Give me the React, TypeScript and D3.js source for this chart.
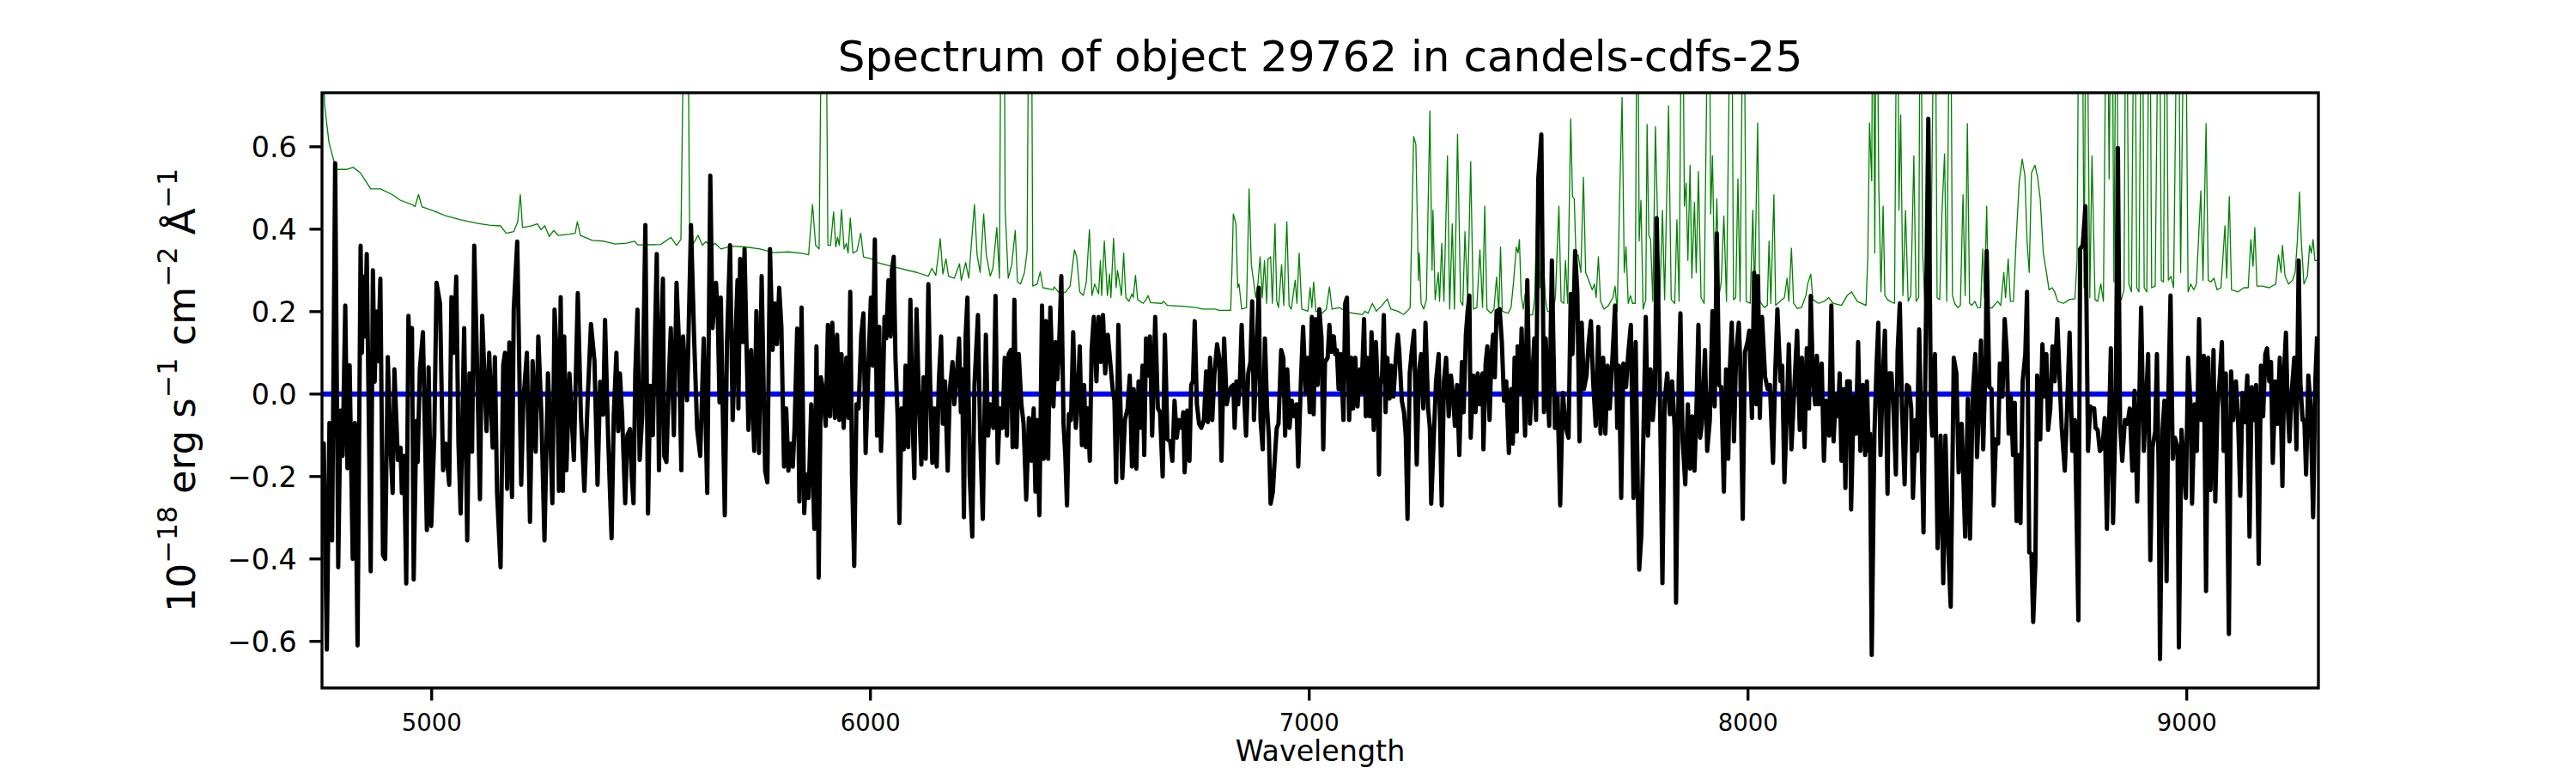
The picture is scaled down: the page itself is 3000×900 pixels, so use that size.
import React from 'react';
import * as d3 from 'd3';

// ---------- chart content ----------
const title = 'Spectrum of object 29762 in candels-cdfs-25';
const xLabel = 'Wavelength';
const xDomain: [number, number] = [4750, 9300];
const yDomain: [number, number] = [-0.713, 0.731];
const xTicks = [5000, 6000, 7000, 8000, 9000];
const yTicks = [-0.6, -0.4, -0.2, 0.0, 0.2, 0.4, 0.6];
const zeroLevel = 0;

// observed flux [wavelength, flux]
const fluxSamples: [number, number][] = [
[4750,-0.13],[4754,-0.12],[4761,-0.62],[4767,-0.07],[4773,-0.355],[4780,0.56],[4787,-0.42],[4792,-0.04],[4797,-0.15],[4803,0.215],[4808,-0.18],[4813,0.07],[4820,-0.40],[4825,-0.07],[4831,-0.61],[4838,0.36],[4841,0.10],[4844,0.285],[4848,0.14],[4852,0.34],[4861,-0.43],[4866,0.30],[4870,0.03],[4874,0.20],[4878,0.08],[4883,0.28],[4889,-0.39],[4894,-0.40],[4900,0.09],[4905,-0.10],[4911,-0.24],[4915,0.06],[4923,-0.16],[4929,-0.13],[4932,-0.24],[4937,-0.15],[4942,-0.46],[4947,0.19],[4951,0.05],[4955,0.16],[4959,-0.45],[4965,-0.065],[4968,-0.165],[4973,0.06],[4980,0.15],[4989,-0.33],[4993,0.065],[4999,-0.32],[5006,-0.10],[5011,0.27],[5019,0.22],[5026,-0.185],[5032,-0.12],[5040,-0.22],[5045,0.235],[5050,0.10],[5056,0.285],[5061,-0.12],[5066,-0.29],[5074,0.16],[5081,-0.355],[5086,0.05],[5092,-0.14],[5097,0.36],[5103,0.09],[5110,-0.255],[5115,0.19],[5125,-0.09],[5131,0.10],[5139,-0.13],[5144,0.09],[5149,-0.24],[5157,-0.42],[5163,0.07],[5167,0.10],[5172,-0.23],[5177,0.125],[5183,-0.25],[5187,0.205],[5195,0.37],[5204,-0.22],[5209,-0.015],[5217,0.10],[5224,-0.31],[5230,0.08],[5237,-0.14],[5243,0.14],[5250,-0.05],[5257,-0.355],[5265,0.05],[5269,-0.05],[5275,-0.265],[5280,0.205],[5285,0.09],[5290,-0.235],[5294,0.235],[5299,-0.235],[5302,0.14],[5307,-0.185],[5314,0.05],[5324,-0.16],[5333,0.245],[5340,-0.05],[5348,-0.235],[5356,0.0],[5363,0.17],[5371,0.08],[5378,-0.22],[5384,0.03],[5391,-0.05],[5395,0.18],[5402,-0.10],[5410,-0.35],[5415,-0.05],[5421,0.10],[5425,-0.09],[5429,0.05],[5434,-0.05],[5441,-0.265],[5446,-0.10],[5452,-0.085],[5456,-0.20],[5460,-0.265],[5464,0.05],[5469,0.205],[5474,-0.16],[5480,-0.05],[5487,0.41],[5493,-0.29],[5498,0.02],[5504,-0.10],[5513,0.34],[5518,-0.185],[5522,0.10],[5527,0.28],[5530,-0.15],[5535,-0.165],[5541,0.05],[5545,0.16],[5552,-0.10],[5558,0.27],[5563,0.14],[5569,-0.185],[5573,0.14],[5577,0.06],[5582,-0.015],[5591,0.41],[5598,0.14],[5605,-0.085],[5612,-0.15],[5620,0.135],[5628,-0.24],[5635,0.53],[5640,0.16],[5648,0.27],[5652,0.19],[5656,-0.02],
[5659,0.234],[5663,-0.021],[5668,-0.294],[5673,0.126],[5680,0.361],[5686,-0.063],[5692,0.126],[5697,0.276],[5699,-0.035],[5703,0.328],[5709,0.126],[5713,0.352],[5717,0.144],[5722,-0.087],[5728,0.107],[5735,-0.138],[5740,0.201],[5746,-0.143],[5752,0.286],[5760,-0.186],[5765,-0.214],[5771,0.352],[5777,0.107],[5782,0.22],[5787,0.121],[5792,0.258],[5797,0.163],[5803,-0.176],[5808,-0.035],[5813,-0.186],[5818,-0.12],[5823,-0.176],[5827,-0.082],[5833,0.159],[5838,-0.261],[5843,0.21],[5849,-0.289],[5853,-0.195],[5859,-0.252],[5865,-0.025],[5872,-0.327],[5877,0.116],[5882,-0.445],[5887,0.041],[5891,0.017],[5898,-0.077],[5903,0.168],[5908,-0.054],[5913,0.173],[5919,-0.058],[5924,0.144],[5929,-0.063],[5934,0.097],[5939,-0.082],[5945,0.088],[5950,-0.058],[5954,0.248],[5958,-0.195],[5963,-0.417],[5968,-0.025],[5973,-0.035],[5979,0.144],[5984,0.196],[5989,-0.143],[5996,0.088],[6001,0.234],[6005,0.069],[6010,0.375],[6015,-0.101],[6020,0.163],[6024,-0.138],[6028,-0.021],[6032,0.187],[6036,0.135],[6041,0.276],[6046,0.14],[6049,0.30],[6053,0.333],[6057,0.088],[6062,-0.058],[6066,-0.313],[6071,-0.035],[6076,-0.134],[6080,0.069],[6086,-0.129],[6091,0.229],[6096,-0.063],[6100,-0.204],[6105,0.206],[6110,0.003],[6116,-0.171],[6121,0.041],[6126,-0.157],[6132,0.267],[6136,0.031],[6141,-0.167],[6146,-0.035],[6151,-0.176],[6156,0.036],[6161,0.14],[6165,-0.072],[6170,0.031],[6176,-0.186],[6181,0.012],[6187,0.078],[6191,-0.025],[6196,0.031],[6202,0.135],[6206,-0.044],[6209,0.06],[6213,-0.299],[6217,0.144],[6221,0.234],[6226,-0.195],[6232,-0.346],[6237,0.022],[6245,0.192],[6250,-0.101],[6256,-0.303],[6263,0.144],[6268,-0.101],[6273,-0.025],[6280,-0.082],[6285,0.238],[6290,-0.167],[6295,-0.035],[6301,-0.082],[6306,0.088],[6311,-0.101],[6315,0.097],[6320,0.107],[6324,-0.129],[6328,0.229],[6333,-0.129],[6338,0.097],[6344,-0.025],[6349,-0.072],[6355,-0.256],[6361,-0.058],[6367,-0.162],[6372,-0.035],[6376,-0.237],[6380,-0.063],[6385,-0.294],[6391,0.215],[6395,-0.157],[6400,0.177],[6405,-0.157],[6410,0.21],[6417,-0.03],[6422,0.126],[6426,0.036],[6430,0.116],[6435,0.286],[6440,-0.072],[6444,-0.148],[6448,-0.27],[6452,-0.049],[6457,-0.063],[6462,0.15],[6468,-0.082],[6472,-0.021],[6477,0.116],[6482,-0.124],[6487,0.022],[6491,-0.129],[6495,-0.035],[6500,-0.162],[6504,0.107],[6509,0.187],[6515,0.031],[6520,0.187],[6525,0.078],[6530,0.192],[6535,0.05],[6541,0.144],[6546,0.083],[6552,0.012],[6556,-0.016],[6560,-0.214],[6565,0.168],
[6574,-0.204],[6580,-0.063],[6586,-0.035],[6591,0.045],[6596,-0.176],[6600,0.012],[6606,-0.181],[6611,0.031],[6615,-0.082],[6620,0.069],[6624,-0.148],[6628,0.135],[6632,0.045],[6637,0.14],[6642,-0.101],[6649,0.187],[6655,-0.035],[6660,-0.044],[6666,-0.20],[6671,0.144],[6677,-0.11],[6683,-0.115],[6688,-0.162],[6693,-0.016],[6698,-0.106],[6703,-0.063],[6709,-0.082],[6713,-0.044],[6716,-0.19],[6722,-0.04],[6727,-0.162],[6731,0.022],[6735,0.031],[6739,0.177],[6744,-0.025],[6749,-0.072],[6754,-0.082],[6760,-0.063],[6765,0.055],[6769,-0.068],[6774,0.088],[6779,-0.063],[6784,0.05],[6790,0.121],[6795,0.088],[6800,-0.162],[6806,0.135],[6812,-0.025],[6817,0.003],[6822,0.017],[6827,0.022],[6830,-0.082],[6834,0.031],[6838,-0.025],[6842,0.031],[6846,0.168],[6851,0.012],[6856,-0.101],[6861,0.05],[6866,0.078],[6870,0.225],[6874,-0.063],[6879,0.069],[6885,0.258],[6889,-0.063],[6894,-0.134],[6899,0.135],[6904,-0.035],[6908,-0.101],[6912,-0.266],[6917,-0.238],[6923,-0.129],[6926,-0.082],[6930,-0.072],[6936,0.107],[6941,0.088],[6945,-0.101],[6950,0.06],[6955,-0.082],[6960,-0.016],[6966,-0.054],[6971,-0.025],[6975,-0.176],[6981,0.031],[6986,0.163],[6992,0.003],[6997,0.088],[7001,-0.044],[7006,0.187],[7010,-0.049],[7015,0.182],[7019,0.022],[7023,0.206],[7028,0.135],[7032,-0.134],[7036,0.078],[7042,0.088],[7046,0.168],[7050,0.102],[7056,0.14],[7059,0.097],[7063,0.107],[7067,0.012],[7072,0.097],[7078,-0.063],[7082,0.22],[7086,0.234],[7091,-0.063],[7096,0.088],[7100,-0.035],[7105,0.088],[7110,-0.03],[7116,0.06],[7119,0.003],[7125,0.182],[7129,-0.054],[7132,0.088],[7138,-0.054],[7142,0.15],[7147,-0.087],[7152,0.126],[7156,0.012],[7159,-0.195],[7162,0.022],[7166,0.045],[7170,0.192],[7174,-0.044],[7178,0.088],[7183,-0.011],[7187,0.069],[7192,-0.006],[7198,0.097],[7202,0.144],[7205,0.107],[7211,-0.016],[7216,-0.044],[7220,-0.101],[7224,-0.303],[7229,0.05],[7234,0.107],[7239,0.154],[7245,-0.171],[7250,0.05],[7255,0.097],[7260,-0.035],[7265,0.173],[7271,-0.035],[7275,-0.082],[7278,-0.266],[7284,-0.101],[7289,0.031],[7295,0.097],[7302,-0.27],[7307,0.031],[7312,0.088],[7318,-0.054],[7323,0.045],[7328,-0.006],[7332,-0.077],[7337,0.022],[7342,-0.148],[7348,0.078],[7352,-0.044],[7357,0.144],[7361,0.201],[7365,0.239],[7368,-0.106],[7374,0.045],[7379,-0.044],[7384,0.05],[7389,-0.025],[7395,0.05],[7397,-0.134],[7402,0.074],[7406,0.116],[7411,-0.063],[7415,0.088],[7419,0.144],[7423,0.041],[7427,0.201],[7434,0.206],[7439,0.126],[7444,-0.016],[7449,0.031],[7455,-0.143],[7460,0.012],[7464,-0.12],[7468,0.088],[7473,-0.091],[7475,0.116],
[7480,0.003],[7484,0.159],[7492,-0.101],[7497,0.276],[7503,-0.072],[7508,0.031],[7513,0.135],[7517,-0.063],[7522,0.522],[7529,0.63],[7535,-0.044],[7539,0.135],[7543,0.012],[7547,-0.077],[7553,0.324],[7560,-0.082],[7566,-0.006],[7572,-0.27],[7578,0.003],[7585,-0.082],[7591,-0.106],[7596,0.243],[7600,0.097],[7606,0.347],[7611,0.248],[7616,-0.115],[7621,0.173],[7626,0.012],[7632,0.045],[7637,0.126],[7642,0.177],[7647,0.031],[7653,-0.077],[7659,0.163],[7664,-0.096],[7670,0.088],[7675,-0.096],[7680,0.069],[7685,-0.035],[7692,0.107],[7697,0.215],[7702,-0.082],[7706,0.069],[7711,-0.252],[7716,0.074],[7722,0.017],[7727,0.097],[7733,0.168],[7739,-0.252],[7744,0.126],[7749,-0.242],[7752,-0.426],[7757,-0.341],[7762,-0.082],[7767,0.187],[7772,-0.101],[7778,0.06],[7783,-0.063],[7788,0.012],[7792,0.427],[7799,0.022],[7805,-0.459],[7810,-0.016],[7816,0.05],[7822,-0.049],[7827,0.031],[7833,-0.082],[7836,-0.506],[7842,0.031],[7846,0.196],[7851,-0.11],[7857,-0.219],[7863,-0.025],[7868,-0.181],[7873,-0.054],[7878,-0.186],[7882,-0.058],[7887,0.168],[7891,-0.106],[7895,-0.072],[7902,0.107],[7907,-0.138],[7913,-0.063],[7919,0.201],[7924,-0.03],[7929,0.39],[7934,0.022],[7939,0.017],[7945,-0.237],[7950,0.06],[7955,-0.157],[7959,0.069],[7963,0.173],[7968,-0.115],[7973,0.097],[7979,0.173],[7982,0.088],[7988,-0.303],[7993,0.102],[7999,0.126],[8003,0.154],[8009,-0.058],[8014,0.295],[8019,-0.025],[8023,0.286],[8027,-0.058],[8032,0.187],[8039,0.041],[8045,0.012],[8050,0.022],[8057,-0.167],[8062,0.05],[8067,0.206],[8074,0.031],[8078,0.069],[8083,-0.214],[8089,-0.025],[8093,0.121],[8099,-0.134],[8105,0.003],[8112,0.154],[8118,-0.087],[8123,0.088],[8129,-0.129],[8134,0.111],[8139,-0.035],[8143,0.238],[8148,0.041],[8153,-0.025],[8157,0.093],[8161,-0.025],[8168,0.074],[8173,-0.162],[8178,-0.016],[8185,-0.101],[8190,0.215],[8195,-0.115],[8200,-0.002],[8205,-0.054],[8209,0.05],[8213,-0.162],[8218,0.012],[8222,-0.228],[8226,0.031],[8232,0.031],[8235,-0.28],[8241,-0.006],[8246,-0.096],[8251,0.126],[8256,-0.138],[8262,0.022],[8267,-0.148],[8271,0.031],[8275,-0.138],[8278,-0.096],[8282,-0.633],[8288,-0.101],[8293,0.069],[8297,0.173],[8302,-0.148],[8307,0.031],[8312,0.154],[8318,-0.242],[8321,0.05],[8327,0.05],[8332,-0.049],[8337,-0.195],[8341,0.102],[8346,0.22],[8351,-0.035],[8357,-0.219],[8362,0.022],[8367,0.017],[8372,-0.035],[8376,-0.252],[8382,-0.063],[8385,-0.138],[8390,0.157],
[8400,-0.336],[8406,0.22],[8411,0.668],[8417,-0.044],[8420,-0.101],[8426,0.097],[8432,-0.374],[8439,-0.101],[8445,-0.459],[8450,-0.101],[8456,-0.365],[8462,-0.516],[8469,0.088],[8475,0.05],[8480,-0.19],[8487,-0.072],[8495,-0.346],[8501,-0.011],[8506,-0.351],[8512,-0.006],[8518,0.097],[8522,-0.153],[8527,-0.006],[8531,0.13],[8536,-0.134],[8542,0.097],[8544,0.347],[8550,0.017],[8555,0.012],[8560,-0.27],[8565,-0.11],[8570,-0.12],[8574,0.074],[8580,-0.006],[8585,0.182],[8590,0.097],[8594,-0.096],[8599,-0.006],[8604,-0.148],[8608,-0.021],[8612,-0.308],[8617,-0.148],[8621,-0.313],[8626,0.031],[8632,0.097],[8636,0.248],[8641,-0.384],[8646,-0.388],[8650,-0.553],[8655,-0.412],[8659,0.045],[8666,-0.11],[8671,0.121],[8676,-0.006],[8680,0.097],[8684,-0.087],[8689,-0.035],[8694,0.116],[8699,0.031],[8705,0.182],[8710,0.041],[8715,-0.082],[8722,-0.186],[8727,-0.044],[8733,0.149],[8739,-0.138],[8745,-0.063],[8753,-0.549],[8757,0.352],[8763,0.361],[8769,0.456],[8775,-0.138],[8780,-0.03],[8784,-0.035],[8789,-0.035],[8792,-0.082],[8797,-0.087],[8802,-0.138],[8808,-0.129],[8813,-0.058],[8818,-0.327],[8823,-0.072],[8827,0.111],[8832,-0.313],[8838,-0.035],[8843,0.597],[8848,-0.072],[8853,-0.162],[8859,-0.063],[8865,-0.072],[8870,-0.035],[8876,-0.186],[8881,0.008],[8887,-0.261],[8892,-0.006],[8896,0.21],[8902,-0.138],[8907,-0.025],[8912,0.097],[8917,-0.403],[8922,-0.129],[8928,-0.091],[8932,0.097],[8936,-0.195],[8939,-0.643],[8945,-0.087],[8949,-0.016],[8954,-0.454],[8958,-0.006],[8963,0.239],[8968,-0.157],[8973,-0.106],[8979,-0.129],[8982,-0.615],[8988,-0.087],[8993,-0.162],[8998,-0.252],[9003,0.088],[9009,-0.035],[9012,-0.266],[9018,-0.025],[9023,-0.138],[9028,0.182],[9033,-0.063],[9039,0.093],[9044,-0.478],[9049,0.088],[9054,-0.233],[9061,0.107],[9065,-0.261],[9070,-0.035],[9075,0.036],[9080,0.126],[9084,-0.138],[9089,0.05],[9096,-0.582],[9101,0.055],[9106,-0.063],[9112,0.031],[9117,-0.063],[9122,-0.247],[9127,0.003],[9132,-0.068],[9138,0.045],[9143,-0.346],[9148,0.017],[9153,-0.063],[9158,0.022],[9164,-0.412],[9169,0.069],[9174,-0.054],[9179,0.097],[9183,0.111],[9188,0.031],[9192,0.078],[9196,-0.167],[9202,0.031],[9207,-0.072],[9212,0.088],[9218,-0.223],[9222,0.06],[9226,0.149],[9230,-0.03],[9234,-0.115],[9239,0.003],[9245,0.088],[9250,-0.134],[9255,0.324],[9259,0.027],[9264,-0.063],[9268,-0.063],[9272,-0.195],[9277,0.045],[9282,-0.025],[9288,-0.299],[9293,0.031],[9297,0.14]
];

// noise spectrum [wavelength, value]
const noiseSamples: [number, number][] = [
[4750,1.0],[4753,0.80],[4756,0.70],[4766,0.61],[4776,0.57],[4782,0.545],[4805,0.545],[4821,0.55],[4838,0.536],[4861,0.498],[4883,0.498],[4910,0.484],[4929,0.47],[4955,0.46],[4962,0.455],[4970,0.484],[4978,0.454],[5001,0.446],[5033,0.432],[5066,0.423],[5105,0.414],[5131,0.41],[5157,0.408],[5170,0.39],[5187,0.394],[5196,0.418],[5202,0.484],[5207,0.404],[5226,0.408],[5241,0.413],[5249,0.399],[5258,0.408],[5268,0.382],[5278,0.397],[5288,0.385],[5314,0.388],[5327,0.39],[5332,0.418],[5339,0.385],[5366,0.373],[5392,0.371],[5418,0.364],[5444,0.366],[5462,0.371],[5470,0.362],[5483,0.362],[5522,0.363],[5545,0.38],[5558,0.361],[5568,0.375],[5573,0.8],[5577,1.5],[5582,1.5],[5585,0.8],[5588,0.37],[5594,0.361],[5607,0.385],[5617,0.361],[5625,0.37],[5636,0.357],[5646,0.366],[5659,0.352],
[5683,0.359],[5715,0.357],[5748,0.352],[5780,0.343],[5813,0.345],[5846,0.341],[5859,0.338],[5868,0.46],[5875,0.361],[5883,0.352],[5888,0.9],[5891,1.5],[5896,1.5],[5900,0.8],[5903,0.361],[5909,0.361],[5916,0.442],[5921,0.357],[5925,0.38],[5929,0.361],[5934,0.448],[5940,0.352],[5945,0.366],[5949,0.342],[5954,0.427],[5960,0.342],[5969,0.347],[5978,0.39],[5984,0.333],[6002,0.328],[6015,0.319],[6041,0.312],[6067,0.305],[6106,0.295],[6132,0.286],[6140,0.305],[6149,0.288],[6159,0.377],[6165,0.291],[6172,0.328],[6178,0.286],[6191,0.281],[6203,0.316],[6207,0.276],[6217,0.319],[6224,0.281],[6237,0.46],[6243,0.338],[6250,0.295],[6258,0.437],[6264,0.338],[6273,0.286],[6279,0.305],[6288,0.404],[6294,0.281],[6297,0.9],[6300,1.5],[6304,1.2],[6307,0.446],[6314,0.281],[6322,0.314],[6330,0.397],[6335,0.272],[6342,0.267],[6351,0.295],[6357,0.347],[6362,1.2],[6365,1.5],[6367,1.0],[6370,0.262],[6380,0.267],[6387,0.297],[6393,0.258],[6416,0.253],[6419,0.26],[6432,0.243],[6445,0.248],[6455,0.262],[6465,0.35],[6470,0.333],[6477,0.248],[6485,0.239],[6492,0.272],[6499,0.399],[6505,0.239],[6511,0.267],[6520,0.243],[6524,0.324],[6527,0.239],[6533,0.371],[6540,0.239],[6545,0.291],[6548,0.234],[6554,0.378],[6560,0.258],[6563,0.30],[6569,0.262],
[6572,0.239],[6577,0.342],[6582,0.234],[6589,0.225],[6596,0.243],[6599,0.234],[6604,0.288],[6609,0.229],[6622,0.22],[6628,0.229],[6633,0.239],[6638,0.222],[6664,0.22],[6668,0.225],[6677,0.215],[6716,0.213],[6743,0.21],[6756,0.206],[6785,0.206],[6795,0.203],[6821,0.203],[6824,0.305],[6827,0.437],[6833,0.413],[6837,0.258],[6840,0.267],[6846,0.206],[6857,0.21],[6863,0.498],[6868,0.314],[6873,0.276],[6878,0.234],[6883,0.267],[6888,0.333],[6893,0.234],[6898,0.324],[6903,0.22],[6906,0.328],[6912,0.333],[6916,0.22],[6922,0.413],[6926,0.225],[6930,0.21],[6937,0.314],[6942,0.215],[6949,0.418],[6954,0.215],[6959,0.206],[6968,0.276],[6972,0.22],[6977,0.342],[6983,0.206],[6997,0.201],[7002,0.258],[7006,0.21],[7010,0.272],[7015,0.201],[7029,0.196],[7039,0.206],[7046,0.26],[7052,0.206],[7069,0.21],[7082,0.201],[7101,0.196],[7121,0.193],[7127,0.201],[7134,0.196],[7144,0.22],[7153,0.201],[7166,0.215],[7178,0.231],[7186,0.206],[7202,0.201],[7215,0.193],[7225,0.203],[7230,0.21],[7238,0.625],[7243,0.606],[7249,0.276],[7251,0.342],[7255,0.22],[7261,0.206],[7267,0.229],[7275,0.687],[7280,0.30],[7282,0.446],[7287,0.229],[7294,0.295],[7297,0.225],[7302,0.366],[7307,0.225],[7315,0.578],[7320,0.206],[7326,0.413],[7331,0.206],[7338,0.63],[7345,0.225],[7350,0.215],[7355,0.394],[7361,0.229],[7368,0.564],[7374,0.206],[7382,0.21],[7389,0.35],[7395,0.21],[7400,0.456],[7405,0.206],[7414,0.196],[7421,0.206],[7427,0.284],[7432,0.196],[7436,0.357],[7440,0.201],[7453,0.196],[7460,0.21],[7466,0.276],[7472,0.357],[7476,0.342],[7479,0.375],
[7483,0.239],[7488,0.206],[7492,0.243],[7496,0.192],[7509,0.192],[7514,0.234],[7519,0.465],[7522,0.522],[7526,0.258],[7532,0.371],[7538,0.234],[7543,0.201],[7555,0.196],[7561,0.234],[7569,0.456],[7574,0.225],[7580,0.22],[7584,0.324],[7589,0.22],[7596,0.668],[7600,0.479],[7604,0.474],[7608,0.333],[7613,0.338],[7619,0.295],[7625,0.526],[7630,0.295],[7637,0.276],[7645,0.253],[7650,0.267],[7654,0.234],[7659,0.333],[7664,0.225],[7672,0.206],[7682,0.215],[7692,0.234],[7697,0.262],[7702,0.201],[7707,0.456],[7713,0.72],[7718,0.295],[7722,0.357],[7727,0.22],[7732,0.239],[7737,0.22],[7743,0.22],[7748,1.2],[7752,0.371],[7756,0.47],[7761,0.206],[7767,0.229],[7770,0.654],[7774,0.385],[7778,0.375],[7783,0.225],[7789,0.649],[7795,0.371],[7799,0.229],[7805,0.446],[7810,0.229],[7819,0.70],[7825,0.229],[7833,0.22],[7838,0.423],[7843,0.225],[7850,1.2],[7855,0.456],[7859,0.512],[7863,0.324],[7868,0.555],[7872,0.281],[7878,0.465],[7882,0.295],[7887,0.54],[7893,0.234],[7900,0.22],[7911,1.2],[7915,0.437],[7919,0.578],[7924,0.272],[7929,0.474],[7934,0.239],[7939,0.272],[7945,0.432],[7951,0.225],[7962,1.2],[7967,0.229],[7972,0.234],[7977,0.522],[7982,0.225],[7990,1.2],[7996,0.225],[8005,0.22],[8011,0.446],[8015,0.234],[8022,0.658],[8027,0.225],[8037,0.21],[8044,0.215],[8048,0.371],[8052,0.22],[8059,0.484],[8063,0.215],[8073,0.225],[8083,0.234],[8089,0.281],[8093,0.225],[8099,0.354],[8104,0.22],[8112,0.208],[8122,0.21],[8132,0.239],[8136,0.267],[8143,0.291],[8148,0.229],[8161,0.22],[8174,0.225],[8184,0.234],[8194,0.22],[8213,0.215],[8226,0.239],[8236,0.248],[8249,0.225],[8269,0.215],[8273,0.333],[8277,0.658],[8282,0.517],[8285,1.2],[8289,0.342],[8293,1.2],[8298,0.512],[8303,0.248],[8308,0.456],[8312,0.239],[8318,0.229],[8324,0.225],[8334,0.22],[8340,1.2],[8344,0.446],[8348,0.677],[8353,0.239],[8359,0.446],[8365,0.225],[8371,0.239],[8378,0.578],[8383,0.225],[8389,0.234],
[8393,1.2],[8398,0.342],[8403,0.22],[8411,0.229],[8416,0.22],[8426,1.2],[8431,0.234],[8437,0.229],[8442,0.437],[8448,0.583],[8453,0.225],[8461,1.2],[8466,0.239],[8471,0.22],[8478,0.21],[8484,0.215],[8490,0.484],[8495,0.239],[8500,0.656],[8505,0.22],[8510,0.215],[8517,0.225],[8523,0.21],[8530,0.21],[8535,0.352],[8539,0.234],[8544,0.456],[8548,0.21],[8556,0.209],[8569,0.225],[8576,0.215],[8583,0.295],[8587,0.234],[8593,0.328],[8598,0.225],[8605,0.225],[8611,0.371],[8618,0.512],[8625,0.57],[8631,0.531],[8636,0.371],[8641,0.295],[8646,0.536],[8654,0.555],[8660,0.526],[8666,0.474],[8673,0.342],[8681,0.29],[8686,0.253],[8693,0.258],[8699,0.248],[8706,0.225],[8719,0.22],[8732,0.229],[8745,0.231],[8750,0.324],[8755,1.2],[8761,1.2],[8766,0.258],[8771,1.2],[8779,0.234],[8784,0.578],[8791,0.229],[8797,0.225],[8804,0.267],[8810,0.225],[8818,1.2],[8823,0.522],[8829,1.2],[8834,0.272],[8840,1.2],[8844,0.239],[8851,0.229],[8857,0.253],[8862,1.2],[8868,0.267],[8874,0.248],[8881,1.2],[8886,0.258],[8891,0.248],[8898,1.2],[8903,0.258],[8909,0.248],[8915,1.2],[8920,0.258],[8928,0.262],[8937,1.2],[8942,0.276],[8947,0.272],[8952,1.2],[8958,0.276],[8964,0.286],[8970,0.258],[8980,1.2],[8986,0.295],[8996,1.2],[9003,0.248],[9009,0.267],[9016,0.253],[9022,0.267],[9032,0.493],[9037,0.276],[9044,0.656],[9049,0.276],[9055,0.272],[9062,0.281],[9069,0.253],[9078,0.258],[9087,0.408],[9091,0.281],[9097,0.479],[9102,0.253],[9117,0.248],[9130,0.258],[9140,0.258],[9146,0.375],[9151,0.31],[9155,0.404],[9160,0.262],[9172,0.262],[9188,0.258],[9203,0.267],[9209,0.338],[9215,0.295],[9218,0.361],[9224,0.286],[9232,0.267],[9241,0.276],[9247,0.295],[9252,0.371],[9257,0.49],[9261,0.371],[9267,0.267],[9275,0.286],[9280,0.361],[9284,0.342],[9288,0.375],[9292,0.324],[9298,0.324]
];

// ---------- layout (matplotlib-like, 300 dpi) ----------
const W = 3000;
const H = 900;
const plot = { left: 375, right: 2700, top: 108, bottom: 801 };
const FONT = '"DejaVu Sans", Verdana, sans-serif';
const spineW = 3.33;
const tickLen = 14.6;
const tickPad = 14.6;

export default function App() {
  const x = d3.scaleLinear().domain(xDomain).range([plot.left, plot.right]);
  const y = d3.scaleLinear().domain(yDomain).range([plot.bottom, plot.top]);
  const line = d3
    .line<[number, number]>()
    .x((d) => x(d[0]))
    .y((d) => y(d[1]));
  const yFmt = d3.format('.1f');
  const xFmt = d3.format('d');
  const pw = plot.right - plot.left;
  const ph = plot.bottom - plot.top;
  const supShift = 21;
  const supSize = 31.5;

  return (
    <svg
      width={W}
      height={H}
      style={{ position: 'absolute', left: 0, top: 0, background: '#fff' }}
      fontFamily={FONT}
    >
      <defs>
        <clipPath id="plotArea">
          <rect x={plot.left} y={plot.top} width={pw} height={ph} />
        </clipPath>
      </defs>
      <rect x={0} y={0} width={W} height={H} fill="#ffffff" />

      <g clipPath="url(#plotArea)">
        <path d={line(noiseSamples) || ''} fill="none" stroke="#008000" strokeWidth={1.3} strokeLinejoin="round" />
        <line x1={plot.left} x2={plot.right} y1={y(zeroLevel)} y2={y(zeroLevel)} stroke="#0000ff" strokeWidth={6} />
        <path d={line(fluxSamples) || ''} fill="none" stroke="#000000" strokeWidth={5} strokeLinejoin="round" />
      </g>

      <rect x={plot.left} y={plot.top} width={pw} height={ph} fill="none" stroke="#000" strokeWidth={spineW} />

      {/* x ticks */}
      {xTicks.map((t) => (
        <g key={'x' + t}>
          <line x1={x(t)} x2={x(t)} y1={plot.bottom} y2={plot.bottom + tickLen} stroke="#000" strokeWidth={spineW} />
          <text x={x(t)} y={851} textAnchor="middle" fontSize={27.5} fill="#000">
            {xFmt(t)}
          </text>
        </g>
      ))}

      {/* y ticks */}
      {yTicks.map((t) => (
        <g key={'y' + t}>
          <line x1={plot.left - tickLen} x2={plot.left} y1={y(t)} y2={y(t)} stroke="#000" strokeWidth={spineW} />
          <text x={plot.left - tickLen - tickPad} y={y(t) + 12.5} textAnchor="end" fontSize={33.3} fill="#000">
            {yFmt(t)}
          </text>
        </g>
      ))}

      {/* title */}
      <text x={(plot.left + plot.right) / 2} y={83} textAnchor="middle" fontSize={50} fill="#000">
        {title}
      </text>

      {/* x label */}
      <text x={(plot.left + plot.right) / 2} y={886} textAnchor="middle" fontSize={33.3} fill="#000">
        {xLabel}
      </text>

      {/* y label */}
      <text
        transform={`translate(227, ${(plot.top + plot.bottom) / 2}) rotate(-90)`}
        textAnchor="middle"
        fontSize={45}
        fill="#000"
      >
        <tspan>10</tspan>
        <tspan dy={-supShift} fontSize={supSize}>{'−18'}</tspan>
        <tspan dy={supShift}>{' erg s'}</tspan>
        <tspan dy={-supShift} fontSize={supSize}>{'−1'}</tspan>
        <tspan dy={supShift}>{' cm'}</tspan>
        <tspan dy={-supShift} fontSize={supSize}>{'−2'}</tspan>
        <tspan dy={supShift}>{' Å'}</tspan>
        <tspan dy={-supShift} fontSize={supSize}>{'−1'}</tspan>
      </text>
    </svg>
  );
}
